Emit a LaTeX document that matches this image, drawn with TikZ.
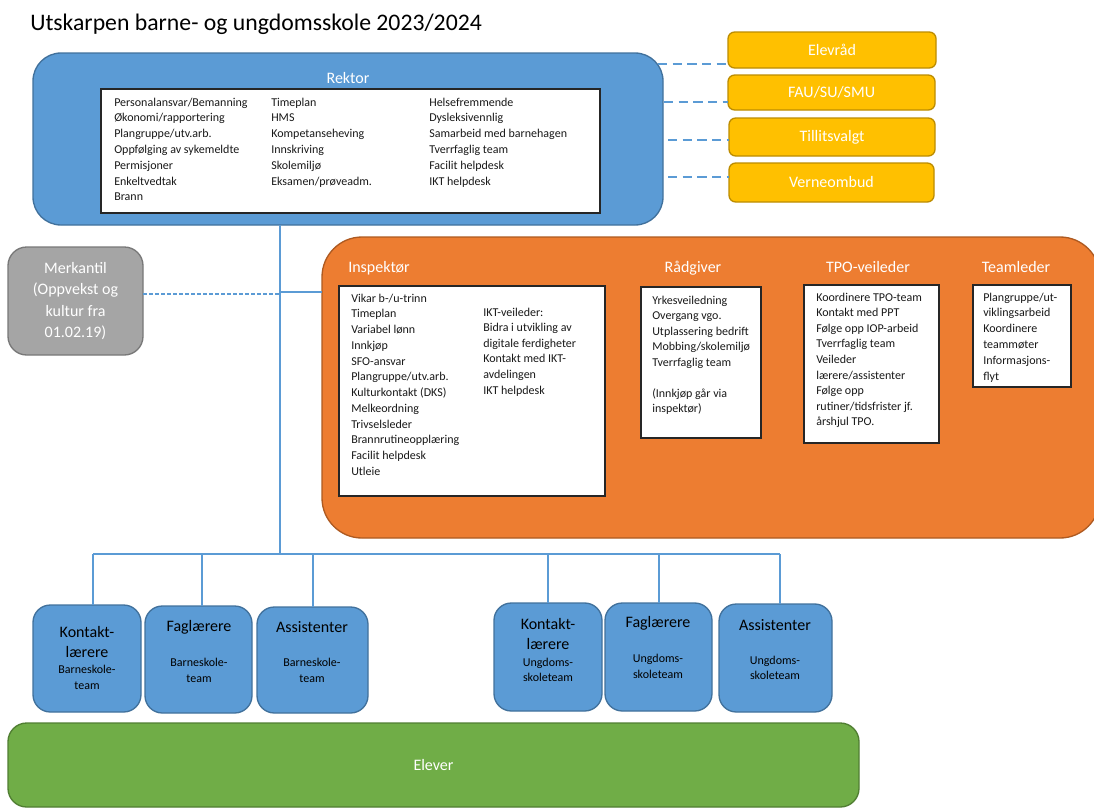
\documentclass[tikz,border=0pt]{standalone}
\usepackage{fontspec}
\setmainfont{Carlito}
\definecolor{bluefill}{HTML}{5B9BD5}
\definecolor{blueline}{HTML}{41719C}
\definecolor{orfill}{HTML}{ED7D31}
\definecolor{orline}{HTML}{AE5A21}
\definecolor{yefill}{HTML}{FFC000}
\definecolor{yeline}{HTML}{BC8C00}
\definecolor{grfill}{HTML}{A5A5A5}
\definecolor{grline}{HTML}{787878}
\definecolor{gnfill}{HTML}{70AD47}
\definecolor{gnline}{HTML}{507E32}
\definecolor{conncol}{HTML}{5B9BD5}
\newcommand\pbox[7]{%
  \node[#6, minimum width={(#4-#2)*0.75pt}, minimum height={(#5-#3)*0.75pt}] (#1) at ({(#2+#4)/2},{(#3+#5)/2}) {#7};}
\tikzset{
  base/.style={inner sep=0pt, outer sep=0pt, rectangle},
  bluebox/.style={base, fill=bluefill, draw=blueline, line width=1pt},
  rektorbox/.style={bluebox, rounded corners=21pt},
  teambox/.style={bluebox, rounded corners=13pt},
  orbox/.style={base, fill=orfill, draw=orline, line width=1pt, rounded corners=30pt},
  yebox/.style={base, fill=yefill, draw=yeline, line width=1pt, rounded corners=5pt, text=white, font=\fontsize{12}{14}\selectfont},
  grbox/.style={base, fill=grfill, draw=grline, line width=1pt, rounded corners=14pt, text=white, align=center, font=\fontsize{12}{16}\selectfont},
  gnbox/.style={base, fill=gnfill, draw=gnline, line width=1pt, rounded corners=14pt, text=white, font=\fontsize{12}{14}\selectfont},
  listbox/.style={base, fill=white, draw=black!85, line width=1pt},
  item/.style={inner sep=0pt, anchor=mid west, font=\fontsize{9}{11}\selectfont, text=black!90},
  head/.style={inner sep=0pt, anchor=mid, text=white, font=\fontsize{12}{14}\selectfont},
  teamtitle/.style={inner sep=0pt, anchor=mid, text=black, font=\fontsize{12}{14}\selectfont},
  teamsub/.style={inner sep=0pt, anchor=mid, text=black, font=\fontsize{9}{11}\selectfont},
  conn/.style={draw=conncol, line width=1.3pt},
  ydash/.style={draw=conncol, line width=1.5pt, dash pattern=on 7pt off 4pt},
  mdash/.style={draw=conncol, line width=1.3pt, dash pattern=on 3pt off 1.5pt},
}
\begin{document}
\begin{tikzpicture}[x=0.75pt, y=-0.75pt]
\useasboundingbox (0,0) rectangle (1094,810);
% title
\node[inner sep=0pt, anchor=base west, font=\fontsize{17.8}{20}\selectfont] (title) at (30,31) {Utskarpen barne- og ungdomsskole 2023/2024};

% Rektor
\pbox{rektor}{33}{53}{663}{225}{rektorbox}{}
\node[head] (rektorlbl) at (348,80) {Rektor};
\pbox{rektorlist}{101}{89}{600}{213}{listbox}{}
\foreach \t [count=\i from 0] in {{Personalansvar/Bemanning},{Økonomi/rapportering},{Plangruppe/utv.arb.},{Oppfølging av sykemeldte},{Permisjoner},{Enkeltvedtak},{Brann}}
  \node[item] (rkA\i) at (114,{103+15.8*\i}) {\t};
\foreach \t [count=\i from 0] in {{Timeplan},{HMS},{Kompetanseheving},{Innskriving},{Skolemiljø},{Eksamen/prøveadm.}}
  \node[item] (rkB\i) at (271,{103+15.8*\i}) {\t};
\foreach \t [count=\i from 0] in {{Helsefremmende},{Dysleksivennlig},{Samarbeid med barnehagen},{Tverrfaglig team},{Facilit helpdesk},{IKT helpdesk}}
  \node[item] (rkC\i) at (429,{103+15.8*\i}) {\t};

% yellow boxes
\pbox{y1}{728}{32}{936}{68}{yebox}{Elevråd}
\pbox{y2}{728}{75}{935}{110}{yebox}{FAU/SU/SMU}
\pbox{y3}{729}{118}{935}{156}{yebox}{Tillitsvalgt}
\pbox{y4}{729}{163}{934}{202}{yebox}{Verneombud}
\coordinate (ya1) at (658,64);
\coordinate (ya2) at (664,102);
\coordinate (ya3) at (668,140);
\coordinate (ya4) at (668,177);
\draw[ydash] (ya1) -- (ya1 -| y1.west);
\draw[ydash] (ya2) -- (ya2 -| y2.west);
\draw[ydash] (ya3) -- (ya3 -| y3.west);
\draw[ydash] (ya4) -- (ya4 -| y4.west);

% Merkantil
\pbox{merk}{8}{247}{143}{355}{grbox}{Merkantil\\(Oppvekst og\\kultur fra\\01.02.19)}

% orange box
\pbox{orange}{322}{237}{1100}{538}{orbox}{}
\node[head, anchor=mid west] (insplbl) at (348,269) {Inspektør};
\node[head] (radlbl) at (693,269) {Rådgiver};
\node[head] (tpolbl) at (868,269) {TPO-veileder};
\node[head] (teamlbl) at (1016,269) {Teamleder};

\pbox{insplist}{339}{286}{605}{496}{listbox}{}
\foreach \t [count=\i from 0] in {{Vikar b-/u-trinn},{Timeplan},{Variabel lønn},{Innkjøp},{SFO-ansvar},{Plangruppe/utv.arb.},{Kulturkontakt (DKS)},{Melkeordning},{Trivselsleder},{Brannrutineopplæring},{Facilit helpdesk},{Utleie}}
  \node[item] (inA\i) at (351,{299+15.75*\i}) {\t};
\foreach \t [count=\i from 0] in {{IKT-veileder:},{Bidra i utvikling av},{digitale ferdigheter},{Kontakt med IKT-},{avdelingen},{IKT helpdesk}}
  \node[item] (inB\i) at (483,{313+15.6*\i}) {\t};

\pbox{radlist}{641}{287}{761}{438}{listbox}{}
\foreach \t [count=\i from 0] in {{Yrkesveiledning},{Overgang vgo.},{Utplassering bedrift},{Mobbing/skolemiljø},{Tverrfaglig team}}
  \node[item] (raA\i) at (652,{301+15.6*\i}) {\t};
\foreach \t [count=\i from 0] in {{(Innkjøp går via},{inspektør)}}
  \node[item] (raB\i) at (652,{394+15.8*\i}) {\t};

\pbox{tpolist}{804}{285}{939}{443}{listbox}{}
\foreach \t [count=\i from 0] in {{Koordinere TPO-team},{Kontakt med PPT},{Følge opp IOP-arbeid},{Tverrfaglig team},{Veileder},{lærere/assistenter},{Følge opp},{rutiner/tidsfrister jf.},{årshjul TPO.}}
  \node[item] (tpA\i) at (816,{298+15.6*\i}) {\t};

\pbox{teamlist}{973}{285}{1071}{387}{listbox}{}
\foreach \t [count=\i from 0] in {{Plangruppe/ut-},{viklingsarbeid},{Koordinere},{teammøter},{Informasjons-},{flyt}}
  \node[item] (tlA\i) at (983,{298+15.8*\i}) {\t};

% team boxes
\pbox{b1}{33}{605}{141}{712}{teambox}{}
\pbox{b2}{145}{606}{252}{713}{teambox}{}
\pbox{b3}{257}{607}{368}{713}{teambox}{}
\pbox{b4}{494}{603}{602}{711}{teambox}{}
\pbox{b5}{605}{603}{712}{711}{teambox}{}
\pbox{b6}{719}{604}{832}{712}{teambox}{}

\node[teamtitle] (b1t1) at (87,634) {Kontakt-};
\node[teamtitle] (b1t2) at (87,654) {lærere};
\node[teamsub] (b1s1) at (87,670) {Barneskole-};
\node[teamsub] (b1s2) at (87,686) {team};
\node[teamtitle] (b2t1) at (199,628) {Faglærere};
\node[teamsub] (b2s1) at (199,663) {Barneskole-};
\node[teamsub] (b2s2) at (199,679) {team};
\node[teamtitle] (b3t1) at (312,629) {Assistenter};
\node[teamsub] (b3s1) at (312,663) {Barneskole-};
\node[teamsub] (b3s2) at (312,679) {team};

\node[teamtitle] (b4t1) at (548,626) {Kontakt-};
\node[teamtitle] (b4t2) at (548,646) {lærere};
\node[teamsub] (b4s1) at (548,663) {Ungdoms-};
\node[teamsub] (b4s2) at (548,678) {skoleteam};
\node[teamtitle] (b5t1) at (658,624) {Faglærere};
\node[teamsub] (b5s1) at (658,659) {Ungdoms-};
\node[teamsub] (b5s2) at (658,675) {skoleteam};
\node[teamtitle] (b6t1) at (775,627) {Assistenter};
\node[teamsub] (b6s1) at (775,661) {Ungdoms-};
\node[teamsub] (b6s2) at (775,676) {skoleteam};

% Elever
\pbox{elever}{8}{723}{859}{807}{gnbox}{Elever}

% connectors
\coordinate (trunk) at (280,554);
\coordinate (tj) at (280,292);
\coordinate (mj) at (280,294);
\coordinate (d1) at (93,554);
\coordinate (d2) at (202,554);
\coordinate (d3) at (313,554);
\coordinate (d4) at (548,554);
\coordinate (d5) at (659,554);
\coordinate (d6) at (780,554);
\draw[conn] (rektor.south -| trunk) -- (trunk);
\draw[conn] (tj) -- (tj -| orange.west);
\draw[mdash] (merk.east |- mj) -- (mj);
\draw[conn] (d1) -- (d6);
\draw[conn] (d1) -- (d1 |- b1.north);
\draw[conn] (d2) -- (d2 |- b2.north);
\draw[conn] (d3) -- (d3 |- b3.north);
\draw[conn] (d4) -- (d4 |- b4.north);
\draw[conn] (d5) -- (d5 |- b5.north);
\draw[conn] (d6) -- (d6 |- b6.north);
\end{tikzpicture}
\end{document}
